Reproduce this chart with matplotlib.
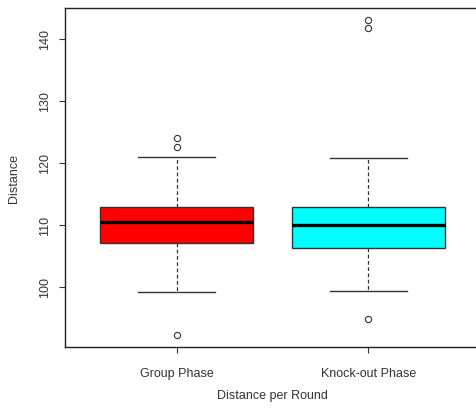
import matplotlib
matplotlib.use("Agg")
import matplotlib.pyplot as plt

# Summary stats (R-style boxplot)
phases = ["Group Phase", "Knock-out Phase"]
q1 = [107.1, 106.3]
median = [110.4, 109.9]
q3 = [112.9, 112.9]
whisker_low = [99.1, 99.3]
whisker_high = [120.9, 120.8]
outliers = [[124.0, 122.5, 92.2], [143.0, 141.8, 94.8]]
box_colors = ["#FF0000", "#00FFFF"]
y_ticks = [100, 110, 120, 130, 140]

plt.rcParams["font.family"] = ["Liberation Sans", "DejaVu Sans"]

fig = plt.figure(figsize=(4.77, 4.14), dpi=100)
ax = fig.add_axes([0.1373, 0.1594, 0.8682, 0.8189])

stats = []
for i, name in enumerate(phases):
    stats.append({
        "label": name, "q1": q1[i], "med": median[i], "q3": q3[i],
        "whislo": whisker_low[i], "whishi": whisker_high[i], "fliers": outliers[i],
    })

edge = "#333333"
res = ax.bxp(stats, positions=[1, 2], widths=0.8, patch_artist=True,
             showfliers=True, capwidths=0.4,
             boxprops=dict(edgecolor=edge, linewidth=1.0),
             whiskerprops=dict(color=edge, linestyle=(0, (3, 2)), linewidth=0.9),
             capprops=dict(color=edge, linewidth=1.0),
             medianprops=dict(color="black", linewidth=2.4),
             flierprops=dict(marker="o", markersize=4.5, markerfacecolor="none",
                             markeredgecolor=edge, markeredgewidth=0.8))
for patch, c in zip(res["boxes"], box_colors):
    patch.set_facecolor(c)

ax.set_xlim(0.42, 2.58)
ax.set_ylim(90.27, 145.0)
ax.set_yticks(y_ticks)
ax.set_yticklabels([str(t) for t in y_ticks], rotation=90, va="center")
ax.set_xticks([1, 2])
ax.set_xticklabels(phases)

for s in ax.spines.values():
    s.set_color("#222222")
    s.set_linewidth(1.0)

ax.tick_params(axis="y", length=4.3, pad=6, labelsize=9, colors="#333333")
ax.tick_params(axis="x", length=4.3, pad=10, labelsize=9, colors="#333333")
ax.set_ylabel("Distance", fontsize=9, color="#333333", labelpad=13.5)
ax.set_xlabel("Distance per Round", fontsize=9, color="#333333", labelpad=7)

fig.savefig("out.png", dpi=100)
